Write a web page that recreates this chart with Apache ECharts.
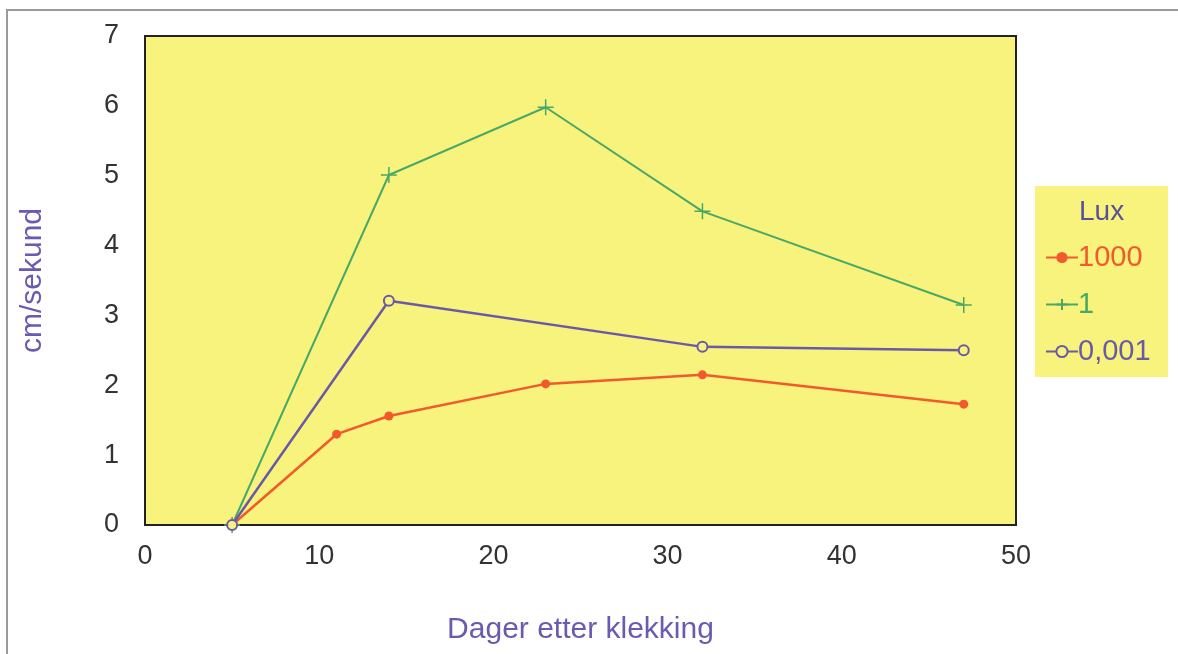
<!DOCTYPE html>
<html>
<head>
<meta charset="utf-8">
<script src="https://cdn.jsdelivr.net/npm/echarts@6/dist/echarts.min.js"></script>
<style>
  html, body { margin: 0; padding: 0; background: #ffffff; }
  #chart { width: 1178px; height: 654px; }
</style>
</head>
<body>
<div id="chart"></div>
<script>
// Swimming speed (cm/s) versus days after hatching, at three light levels (lux)
const days1000 = [5, 11, 14, 23, 32, 47];
const speed1000 = [0, 1.3, 1.56, 2.02, 2.15, 1.73];

const days1 = [5, 14, 23, 32, 47];
const speed1 = [0, 5.01, 5.98, 4.49, 3.15];

const days0001 = [5, 14, 32, 47];
const speed0001 = [0, 3.21, 2.55, 2.5];

const seriesNames = ['1000', '1', '0,001'];
const seriesColors = ['#f25a2c', '#4aa866', '#6a5aa6'];

const xTicks = { min: 0, max: 50, step: 10 };
const yTicks = { min: 0, max: 7, step: 1 };

const pair = (xs, ys) => xs.map((x, i) => [x, ys[i]]);

const FONT = '"Liberation Sans", Arial, sans-serif';
const PLOT_BG = '#f8f37c';
const plusPath = 'path://M5,0 L5,10 M0,5 L10,5';

const chart = echarts.init(document.getElementById('chart'));
chart.setOption({
  animation: false,
  backgroundColor: '#ffffff',
  grid: {
    left: 145, top: 36, right: 162, bottom: 129,
    show: true, backgroundColor: PLOT_BG,
    borderColor: '#222222', borderWidth: 2
  },
  xAxis: {
    type: 'value', min: xTicks.min, max: xTicks.max, interval: xTicks.step,
    name: 'Dager etter klekking', nameLocation: 'middle', nameGap: 90,
    nameTextStyle: { color: '#6a5ab0', fontSize: 30, fontFamily: FONT },
    axisLine: { show: false }, axisTick: { show: false }, splitLine: { show: false },
    axisLabel: { color: '#333333', fontSize: 27, fontFamily: FONT, margin: 18 }
  },
  yAxis: {
    type: 'value', min: yTicks.min, max: yTicks.max, interval: yTicks.step,
    name: 'cm/sekund', nameLocation: 'middle', nameGap: 97,
    nameTextStyle: { color: '#6a5ab0', fontSize: 30, fontFamily: FONT },
    axisLine: { show: false }, axisTick: { show: false }, splitLine: { show: false },
    axisLabel: { color: '#333333', fontSize: 27, fontFamily: FONT, margin: 26 }
  },
  graphic: [
    // page frame: left and top rules
    {
      type: 'polyline', z: 0,
      shape: { points: [[7, 654], [7, 10], [1178, 10]] },
      style: { stroke: '#9a9a9a', lineWidth: 2, fill: null }
    },
    {
      type: 'rect', left: 1035, top: 186, z: 0,
      shape: { width: 133, height: 191 },
      style: { fill: PLOT_BG }
    },
    {
      type: 'text', left: 1079, top: 198, z: 1,
      style: { text: 'Lux', fill: '#5a4f9a', fontSize: 28, fontFamily: FONT }
    }
  ],
  legend: {
    orient: 'vertical', left: 1040, top: 238, itemGap: 18,
    itemWidth: 32, itemHeight: 14,
    textStyle: { fontSize: 29, fontFamily: FONT, padding: [0, 0, 0, -5] },
    data: seriesNames.map((n, i) => ({ name: n, textStyle: { color: seriesColors[i] } }))
  },
  series: [
    {
      name: seriesNames[0], type: 'line', data: pair(days1000, speed1000),
      symbol: 'circle', symbolSize: 9,
      lineStyle: { color: seriesColors[0], width: 2.5 },
      itemStyle: { color: seriesColors[0] }
    },
    {
      name: seriesNames[1], type: 'line', data: pair(days1, speed1),
      symbol: plusPath, symbolSize: 16,
      lineStyle: { color: seriesColors[1], width: 2 },
      itemStyle: { color: seriesColors[1], borderColor: seriesColors[1], borderWidth: 1.5 }
    },
    {
      name: seriesNames[2], type: 'line', data: pair(days0001, speed0001),
      symbol: 'circle', symbolSize: 10,
      lineStyle: { color: seriesColors[2], width: 2.5 },
      itemStyle: { color: PLOT_BG, borderColor: seriesColors[2], borderWidth: 2 }
    }
  ]
});
</script>
</body>
</html>
